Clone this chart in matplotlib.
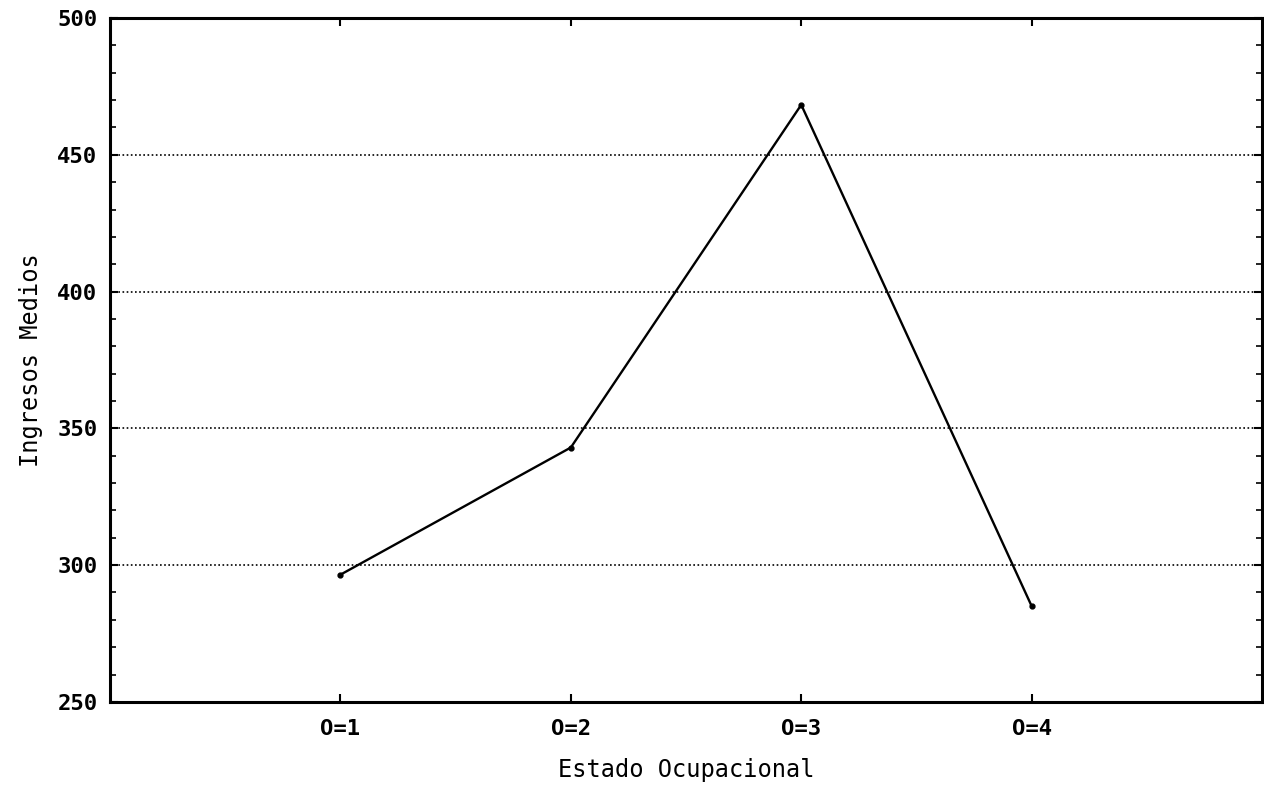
import matplotlib
matplotlib.use("Agg")
import matplotlib.pyplot as plt
from matplotlib.ticker import MultipleLocator

categories = ["O=1", "O=2", "O=3", "O=4"]
ingresos = [296.5, 343.0, 468.3, 285.0]
yticks = [250, 300, 350, 400, 450, 500]

plt.rcParams['font.family'] = ['DejaVu Sans Mono']

fig = plt.figure(figsize=(12.64, 7.86), dpi=100)
ax = fig.add_axes([0.087, 0.107, 0.9115, 0.870])

x = list(range(1, len(categories) + 1))
ax.plot(x, ingresos, color='black', lw=1.7, marker='o', ms=3.5)

ax.set_xlim(0, 5)
ax.set_ylim(250, 500)
ax.set_xticks(x)
ax.set_xticklabels(categories, fontsize=16, fontweight='bold')
ax.set_yticks(yticks)
ax.set_yticklabels([str(v) for v in yticks], fontsize=16, fontweight='bold')
ax.yaxis.set_minor_locator(MultipleLocator(10))

for v in yticks[1:-1]:
    ax.axhline(v, color='black', lw=1.2, ls=(0, (1, 1.5)), zorder=0)

ax.tick_params(axis='x', which='major', direction='in', length=6, width=1.5,
               top=True, pad=12)
ax.tick_params(axis='y', which='major', direction='in', length=6, width=1.5,
               right=True, pad=9)
ax.tick_params(axis='y', which='minor', direction='in', length=4, width=1.2,
               left=True, right=True)
for s in ax.spines.values():
    s.set_linewidth(2.2)

ax.set_xlabel("Estado Ocupacional", fontsize=17, labelpad=14)
ax.set_ylabel("Ingresos Medios", fontsize=17, labelpad=10)

fig.savefig("out.png", dpi=100)
